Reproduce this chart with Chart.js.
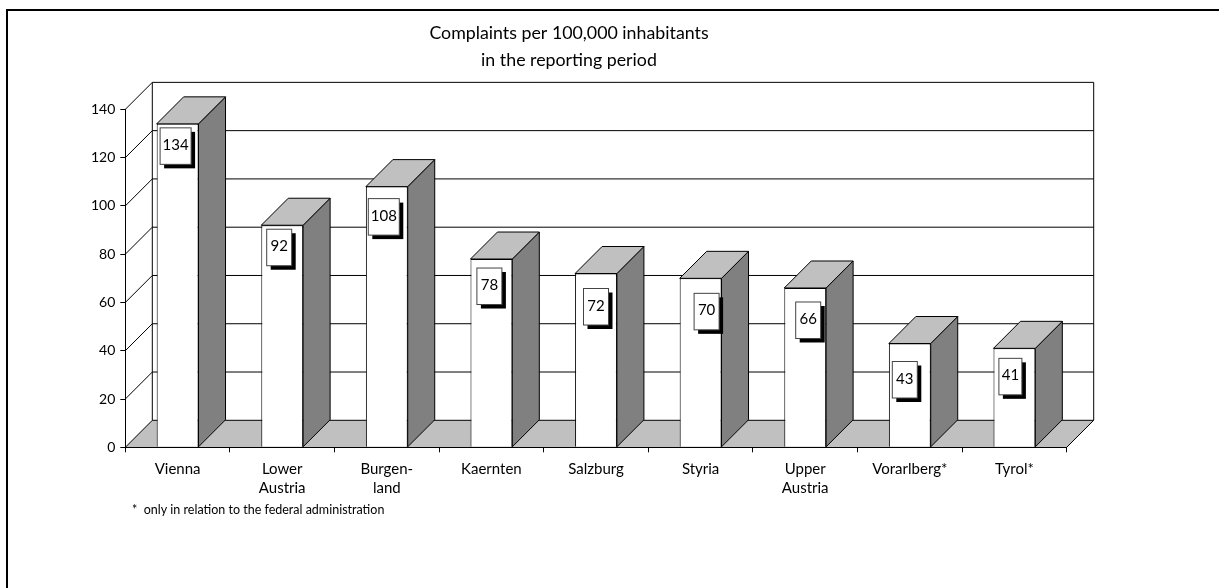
<!DOCTYPE html>
<html>
<head>
<meta charset="utf-8">
<script src="https://cdn.jsdelivr.net/npm/chart.js@4"></script>
<style>html,body{margin:0;padding:0;background:#fff}canvas{display:block}</style>
</head>
<body>
<canvas id="c" width="1219" height="588"></canvas>
<script>
const categories = [["Vienna"], ["Lower", "Austria"], ["Burgen-", "land"], ["Kaernten"], ["Salzburg"], ["Styria"], ["Upper", "Austria"], ["Vorarlberg*"], ["Tyrol*"]];
const complaints = [134, 92, 108, 78, 72, 70, 66, 43, 41];
const yTicks = [0, 20, 40, 60, 80, 100, 120, 140];
const titleLines = ["Complaints per 100,000 inhabitants", "in the reporting period"];
const footnote = "*  only in relation to the federal administration";
const labelNudgeX = [-2, -3, -3, -2, 0, 6, 3, -5, -4];
const labelNudgeY = [4, 4, 12, 9, 15, 15, 14, 18, 10];

const FONT = "Lato";
const DEPTH = 27;
const INK = "#000";

function poly(ctx, pts, fill, stroke) {
  ctx.beginPath();
  pts.forEach((p, i) => i ? ctx.lineTo(p[0], p[1]) : ctx.moveTo(p[0], p[1]));
  ctx.closePath();
  if (fill) { ctx.fillStyle = fill; ctx.fill(); }
  if (stroke) { ctx.strokeStyle = stroke; ctx.lineWidth = 1; ctx.stroke(); }
}
function line(ctx, x1, y1, x2, y2) {
  ctx.beginPath(); ctx.moveTo(x1, y1); ctx.lineTo(x2, y2);
  ctx.strokeStyle = INK; ctx.lineWidth = 1; ctx.stroke();
}

const depthPlugin = {
  id: "depth",
  beforeDraw(chart) {
    const { ctx, chartArea: a, scales: { y } } = chart;
    ctx.save();
    // page frame
    ctx.beginPath(); ctx.moveTo(7, 588); ctx.lineTo(7, 10); ctx.lineTo(1219, 10);
    ctx.strokeStyle = "#000"; ctx.lineWidth = 2; ctx.stroke();
    // back wall and left wall
    const x0 = a.left + DEPTH, x1 = a.right + DEPTH;
    const top = y.getPixelForValue(yTicks[yTicks.length - 1]) - DEPTH;
    const floor = y.getPixelForValue(0) - DEPTH;
    poly(ctx, [[a.left, a.bottom], [x0, floor], [x1, floor], [a.right, a.bottom]], "#c0c0c0");
    line(ctx, x0, top, x0, floor);
    line(ctx, x1, top, x1, floor);
    yTicks.forEach(v => {
      const py = y.getPixelForValue(v);
      line(ctx, a.left, py, x0, py - DEPTH);
      line(ctx, x0, py - DEPTH, x1, py - DEPTH);
    });
    line(ctx, a.right, a.bottom, x1, floor);
    ctx.restore();
  },
  beforeDatasetsDraw(chart) {
    const { ctx } = chart;
    ctx.save();
    chart.getDatasetMeta(0).data.forEach(bar => {
      const p = bar.getProps(["x", "y", "base", "width"], true);
      const l = p.x - p.width / 2, r = p.x + p.width / 2;
      poly(ctx, [[r, p.y], [r + DEPTH, p.y - DEPTH], [r + DEPTH, p.base - DEPTH], [r, p.base]], "#808080", INK);
      poly(ctx, [[l, p.y], [l + DEPTH, p.y - DEPTH], [r + DEPTH, p.y - DEPTH], [r, p.y]], "#c0c0c0", INK);
    });
    ctx.restore();
  },
  afterDatasetsDraw(chart) {
    const { ctx } = chart;
    ctx.save();
    chart.getDatasetMeta(0).data.forEach((bar, i) => {
      const p = bar.getProps(["x", "y"], true);
      const txt = String(complaints[i]);
      const w = txt.length > 2 ? 31 : (i === 8 ? 23 : 25);
      const h = 36.5;
      const bx = p.x + labelNudgeX[i] - w / 2, by = p.y + labelNudgeY[i];
      ctx.fillStyle = "#000";
      ctx.fillRect(bx + 4, by + 4, w, h);
      ctx.fillStyle = "#fff";
      ctx.fillRect(bx, by, w, h);
      ctx.strokeStyle = "#444"; ctx.lineWidth = 1;
      ctx.strokeRect(bx, by, w, h);
      ctx.fillStyle = "#000";
      ctx.font = "15px " + FONT;
      ctx.textAlign = "center"; ctx.textBaseline = "middle";
      ctx.fillText(txt, bx + w / 2, by + h / 2 - 1);
    });
    ctx.fillStyle = "#000";
    ctx.font = "12.5px " + FONT;
    ctx.textAlign = "left"; ctx.textBaseline = "middle";
    ctx.fillText(footnote, 132, 510);
    ctx.restore();
  }
};

new Chart(document.getElementById("c"), {
  type: "bar",
  data: {
    labels: categories,
    datasets: [{
      data: complaints,
      backgroundColor: "#fff",
      borderColor: INK,
      borderWidth: 1,
      barPercentage: 0.4,
      categoryPercentage: 1
    }]
  },
  options: {
    responsive: false,
    animation: false,
    devicePixelRatio: 1,
    layout: { padding: { left: 71.3, right: 152.3, top: 19.4, bottom: 80.7 } },
    plugins: {
      legend: { display: false },
      tooltip: { enabled: false },
      title: {
        display: true,
        text: titleLines,
        color: "#000",
        font: { family: FONT, size: 17.8, lineHeight: 1.53, weight: "normal" },
        padding: { top: 0, bottom: 35.5 }
      }
    },
    scales: {
      x: {
        afterFit(s) { s.height = 60; },
        border: { color: INK, width: 1 },
        grid: { drawOnChartArea: false, tickLength: 5, color: INK, offset: true },
        ticks: {
          color: "#000", padding: 7, maxRotation: 0, autoSkip: false,
          font: { family: FONT, size: 15, lineHeight: 1.27 }
        }
      },
      y: {
        min: 0, max: 140,
        afterFit(s) { s.width = 54; },
        border: { color: INK, width: 1 },
        grid: { drawOnChartArea: false, tickLength: 5, color: INK },
        afterBuildTicks(s) { s.ticks = yTicks.map(v => ({ value: v })); },
        ticks: { color: "#000", padding: 5, font: { family: FONT, size: 14 } }
      }
    }
  },
  plugins: [depthPlugin]
});
</script>
</body>
</html>
